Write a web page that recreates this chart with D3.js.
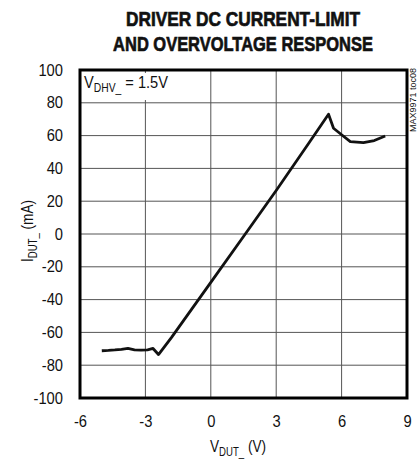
<!DOCTYPE html>
<html>
<head>
<meta charset="utf-8">
<script src="https://cdn.jsdelivr.net/npm/d3@7"></script>
<style>
  body { margin: 0; background: #fff; }
  text { font-family: "Liberation Sans", Arial, sans-serif; fill: #111; }
</style>
</head>
<body>
<svg width="419" height="460"></svg>
<script>
// Data
var volts   = [-5.0, -4.7, -4.4, -4.1, -3.8, -3.5, -3.2, -2.9, -2.65, -2.4, -1.8, 0, 1.5, 3, 4.5, 5.4, 5.63, 6.0, 6.4, 7.0, 7.5, 8.0];
var current = [-71.2, -71.0, -70.7, -70.3, -69.7, -70.6, -70.8, -70.6, -69.8, -73.5, -63, -29.5, -1.5, 26.5, 55.5, 73, 64.5, 60.5, 56.3, 55.7, 57, 59.8];
var xTicks = [-6, -3, 0, 3, 6, 9];
var yTicks = [-100, -80, -60, -40, -20, 0, 20, 40, 60, 80, 100];
var titleLines = ["DRIVER DC CURRENT-LIMIT", "AND OVERVOLTAGE RESPONSE"];

var svg = d3.select("svg"),
    margin = {top: 70, right: 12, bottom: 62, left: 80},
    width = svg.attr("width") - margin.left - margin.right,
    height = svg.attr("height") - margin.top - margin.bottom,
    g = svg.append("g")
      .attr("transform", "translate(" + margin.left + "," + margin.top + ")");

var x = d3.scaleLinear().domain([-6, 9]).range([0, width]),
    y = d3.scaleLinear().domain([-100, 100]).range([height, 0]);

// squeeze text horizontally (no narrow font available)
function narrow(sel, k) {
  sel.each(function() {
    var w = this.getComputedTextLength();
    d3.select(this).attr("textLength", w * k).attr("lengthAdjust", "spacingAndGlyphs");
  });
}

// Title, condensed by scaling to the widths seen in the picture
var titleW = [234, 260];
titleLines.forEach(function(s, i) {
  var t = svg.append("text")
    .attr("text-anchor", "middle")
    .style("font-weight", "bold").style("font-size", "21px")
    .attr("stroke", "#111").attr("stroke-width", 0.7)
    .text(s);
  var k = titleW[i] / t.node().getComputedTextLength();
  t.attr("transform", "translate(243," + (26 + i * 25) + ") scale(" + k + ",1)");
});

// Gridlines
g.append("g")
  .selectAll("line")
  .data(yTicks.slice(1, -1))
  .enter().append("line")
    .attr("x1", 0).attr("x2", width)
    .attr("y1", function(d) { return y(d); })
    .attr("y2", function(d) { return y(d); })
    .attr("stroke", "#555").attr("stroke-width", 1);

g.append("g")
  .selectAll("line")
  .data(xTicks.slice(1, -1))
  .enter().append("line")
    .attr("y1", 0).attr("y2", height)
    .attr("x1", function(d) { return x(d); })
    .attr("x2", function(d) { return x(d); })
    .attr("stroke", "#555").attr("stroke-width", 1);

// Axes (labels only, frame drawn below)
var fmt = function(d) { return String(d); };
var xAxis = g.append("g")
  .attr("transform", "translate(0," + height + ")")
  .call(d3.axisBottom(x).tickValues(xTicks).tickFormat(fmt).tickSize(0).tickPadding(18));
var yAxis = g.append("g")
  .call(d3.axisLeft(y).tickValues(yTicks).tickFormat(fmt).tickSize(0).tickPadding(17));
[xAxis, yAxis].forEach(function(a) {
  a.select(".domain").remove();
  a.selectAll("text")
    .style("font-family", "'Liberation Sans', Arial, sans-serif")
    .style("font-size", "16px")
    .attr("fill", "#111")
    .call(narrow, 0.92);
});

// Frame
g.append("rect")
  .attr("width", width).attr("height", height)
  .attr("fill", "none").attr("stroke", "#000").attr("stroke-width", 3);

// Label in the corner
var lbl = g.append("g");
var lblText = lbl.append("text")
  .attr("transform", "translate(4,18) scale(0.86,1)")
  .style("font-size", "17px");
lblText.append("tspan").text("V");
lblText.append("tspan").attr("dy", 4).style("font-size", "12px").text("DHV_");
lblText.append("tspan").attr("dy", -4).text(" = 1.5V");
var bb = lblText.node().getBBox();
lbl.insert("rect", "text")
  .attr("x", 2).attr("y", 3)
  .attr("width", bb.width * 0.86 + 6).attr("height", 27)
  .attr("fill", "#fff");

// Curve
var pts = volts.map(function(v, i) { return [v, current[i]]; });
g.append("path")
  .datum(pts)
  .attr("fill", "none")
  .attr("stroke", "#111")
  .attr("stroke-width", 2.8)
  .attr("stroke-linejoin", "round")
  .attr("d", d3.line()
    .x(function(d) { return x(d[0]); })
    .y(function(d) { return y(d[1]); }));

// Axis titles
var xt = svg.append("text")
  .attr("transform", "translate(238,452) scale(0.8,1)")
  .attr("text-anchor", "middle")
  .style("font-size", "17px");
xt.append("tspan").text("V");
xt.append("tspan").attr("dy", 4).style("font-size", "12px").text("DUT_");
xt.append("tspan").attr("dy", -4).text(" (V)");

var yt = svg.append("text")
  .attr("transform", "translate(33,231) rotate(-90) scale(0.8,1)")
  .attr("text-anchor", "middle")
  .style("font-size", "17px");
yt.append("tspan").text("I");
yt.append("tspan").attr("dy", 4).style("font-size", "12px").text("DUT_");
yt.append("tspan").attr("dy", -4).text(" (mA)");

// Figure id
svg.append("text")
  .attr("transform", "translate(416,100) rotate(-90)")
  .attr("text-anchor", "middle")
  .style("font-size", "9px")
  .attr("fill", "#333")
  .text("MAX9971 toc08");
</script>
</body>
</html>
